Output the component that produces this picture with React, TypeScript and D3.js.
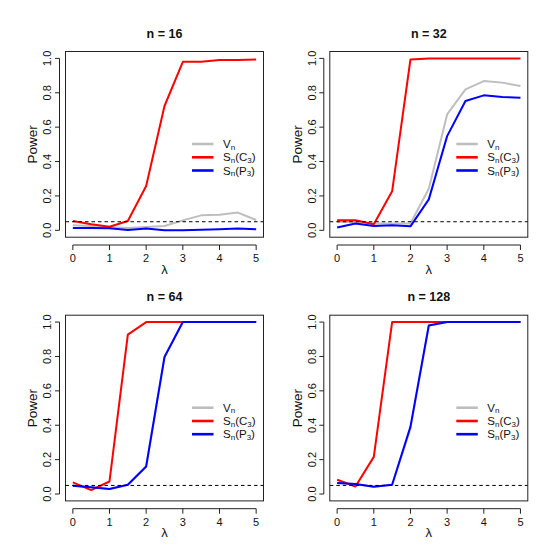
import React, { useEffect, useRef } from "react";
import * as d3 from "d3";

// lambda grid shared by every panel
const lambda = [0, 0.5, 1, 1.5, 2, 2.5, 3, 3.5, 4, 4.5, 5];

const titles = ["n = 16", "n = 32", "n = 64", "n = 128"];

// n = 16
const vn16 = [0.03, 0.025, 0.02, 0.014, 0.02, 0.025, 0.058, 0.087, 0.091, 0.103, 0.06];
const sc16 = [0.054, 0.035, 0.021, 0.054, 0.258, 0.723, 0.98, 0.98, 0.99, 0.99, 0.994];
const sp16 = [0.014, 0.014, 0.012, 0.002, 0.01, 0.0, 0.0, 0.004, 0.006, 0.01, 0.006];

// n = 32
const vn32 = [0.048, 0.048, 0.04, 0.039, 0.04, 0.242, 0.674, 0.82, 0.868, 0.859, 0.839];
const sc32 = [0.058, 0.058, 0.035, 0.227, 0.994, 1, 1, 1, 1, 1, 1];
const sp32 = [0.016, 0.04, 0.025, 0.029, 0.023, 0.18, 0.548, 0.752, 0.785, 0.775, 0.771];

// n = 64
const vn64 = [0.048, 0.039, 0.029, 0.054, 0.16, 0.797, 1, 1, 1, 1, 1];
const sc64 = [0.068, 0.023, 0.073, 0.927, 1, 1, 1, 1, 1, 1, 1];
const sp64 = [0.048, 0.039, 0.029, 0.054, 0.16, 0.797, 1, 1, 1, 1, 1];

// n = 128
const vn128 = [0.064, 0.058, 0.042, 0.054, 0.38, 0.98, 1, 1, 1, 1, 1];
const sc128 = [0.083, 0.044, 0.216, 1, 1, 1, 1, 1, 1, 1, 1];
const sp128 = [0.064, 0.058, 0.042, 0.054, 0.392, 0.98, 1, 1, 1, 1, 1];

const xTicks = [0, 1, 2, 3, 4, 5];
const yTicks = [0, 0.2, 0.4, 0.6, 0.8, 1];
const alpha = 0.05;

const seriesColors = ["#bebebe", "#ff0000", "#0000ff"];
const legendLabels = [
  ["V", "n", "", ""],
  ["S", "n", "(C", "3"],
  ["S", "n", "(P", "3"],
];

const panels = [
  { title: titles[0], vals: [vn16, sc16, sp16], dx: 0, dy: 0 },
  { title: titles[1], vals: [vn32, sc32, sp32], dx: 264.3, dy: 0 },
  { title: titles[2], vals: [vn64, sc64, sp64], dx: 0, dy: 263.7 },
  { title: titles[3], vals: [vn128, sc128, sp128], dx: 264.3, dy: 263.7 },
];

const FONT = "'Liberation Sans', Arial, Helvetica, sans-serif";

export default function App() {
  const svgRef = useRef(null);

  useEffect(() => {
    const svg = d3.select(svgRef.current);
    svg.selectAll("*").remove();

    svg
      .append("rect")
      .attr("width", 554)
      .attr("height", 554)
      .attr("fill", "#fff");

    panels.forEach((p) => {
      const left = 65.5 + p.dx;
      const right = 263.5 + p.dx;
      const top = 51.5 + p.dy;
      const bottom = 237.2 + p.dy;

      const x = d3.scaleLinear().domain([-0.2, 5.2]).range([left, right]);
      const y = d3.scaleLinear().domain([-0.04, 1.04]).range([bottom, top]);

      const g = svg.append("g").attr("font-family", FONT).attr("fill", "#111");

      // title
      g.append("text")
        .attr("x", (left + right) / 2)
        .attr("y", top - 13.8)
        .attr("text-anchor", "middle")
        .attr("font-weight", "bold")
        .attr("font-size", 12.5)
        .text(p.title);

      // x axis
      const xa = g.append("g");
      xa.append("line")
        .attr("x1", x(0))
        .attr("x2", x(5))
        .attr("y1", bottom + 7.8)
        .attr("y2", bottom + 7.8)
        .attr("stroke", "#222");
      xTicks.forEach((t) => {
        xa.append("line")
          .attr("x1", x(t))
          .attr("x2", x(t))
          .attr("y1", bottom + 7.8)
          .attr("y2", bottom + 12.8)
          .attr("stroke", "#222");
        xa.append("text")
          .attr("x", x(t))
          .attr("y", bottom + 25)
          .attr("text-anchor", "middle")
          .attr("font-size", 11)
          .text(t);
      });
      g.append("text")
        .attr("x", (left + right) / 2)
        .attr("y", bottom + 36.5)
        .attr("text-anchor", "middle")
        .attr("font-size", 13)
        .text("λ");

      // y axis
      const ya = g.append("g");
      ya.append("line")
        .attr("x1", left - 6)
        .attr("x2", left - 6)
        .attr("y1", y(0))
        .attr("y2", y(1))
        .attr("stroke", "#222");
      yTicks.forEach((t) => {
        ya.append("line")
          .attr("x1", left - 6)
          .attr("x2", left - 10.5)
          .attr("y1", y(t))
          .attr("y2", y(t))
          .attr("stroke", "#222");
        ya.append("text")
          .attr("transform", `translate(${left - 14.3},${y(t)}) rotate(-90)`)
          .attr("text-anchor", "middle")
          .attr("font-size", 11)
          .text(d3.format(".1f")(t));
      });
      g.append("text")
        .attr(
          "transform",
          `translate(${left - 28.3},${(top + bottom) / 2}) rotate(-90)`,
        )
        .attr("text-anchor", "middle")
        .attr("font-size", 13.5)
        .text("Power");

      // series
      const line = d3
        .line<number>()
        .x((_, i) => x(lambda[i]))
        .y((d) => y(d));
      p.vals.forEach((vals, k) => {
        g.append("path")
          .datum(vals)
          .attr("d", line)
          .attr("fill", "none")
          .attr("stroke", seriesColors[k])
          .attr("stroke-width", 2)
          .attr("stroke-linejoin", "round");
      });

      // nominal level
      g.append("line")
        .attr("x1", left)
        .attr("x2", right)
        .attr("y1", y(alpha))
        .attr("y2", y(alpha))
        .attr("stroke", "#000")
        .attr("stroke-dasharray", "3.5,3");

      // box
      g.append("rect")
        .attr("x", left)
        .attr("y", top)
        .attr("width", right - left)
        .attr("height", bottom - top)
        .attr("fill", "none")
        .attr("stroke", "#222");

      // legend
      const rows = [92.5, 105.8, 119];
      legendLabels.forEach((lab, k) => {
        const ry = top + rows[k];
        g.append("line")
          .attr("x1", right - 71.5)
          .attr("x2", right - 50)
          .attr("y1", ry)
          .attr("y2", ry)
          .attr("stroke", seriesColors[k])
          .attr("stroke-width", 2.6);
        const t = g
          .append("text")
          .attr("x", right - 40.5)
          .attr("y", ry + 4)
          .attr("font-size", 11.5);
        t.append("tspan").text(lab[0]);
        t.append("tspan")
          .attr("font-size", 8)
          .attr("dy", 1.5)
          .text(lab[1]);
        if (lab[2]) {
          t.append("tspan").attr("dy", -1.5).text(lab[2]);
          t.append("tspan")
            .attr("font-size", 8)
            .attr("dy", 1.5)
            .text(lab[3]);
          t.append("tspan").attr("dy", -1.5).text(")");
        }
      });
    });
  }, []);

  return (
    <svg
      ref={svgRef}
      width={554}
      height={554}
      style={{ position: "absolute", left: 0, top: 0 }}
    ></svg>
  );
}
